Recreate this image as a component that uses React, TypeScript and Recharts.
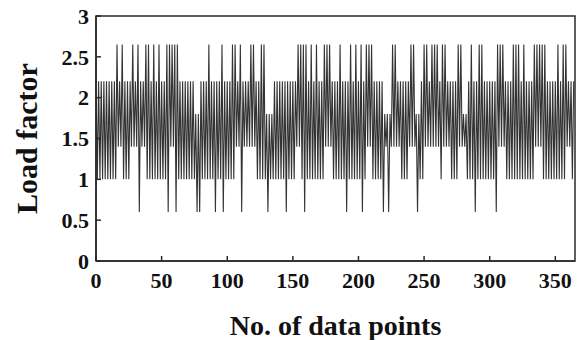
import { LineChart, Line, XAxis, YAxis, ReferenceArea } from "recharts";

// load factor per data point (365 points)
const loadFactor: number[] = [
  2.2, 1.0, 2.2, 1.0, 2.2, 1.0, 2.2, 1.0, 2.2, 1.0,
  2.2, 1.0, 2.2, 1.0, 2.2, 1.0, 2.65, 1.4, 2.2, 1.4,
  2.65, 1.0, 2.2, 1.0, 2.2, 1.0, 2.2, 1.4, 2.65, 1.4,
  2.2, 1.4, 2.65, 0.6, 2.2, 1.4, 2.2, 1.4, 2.65, 1.0,
  2.65, 1.0, 2.2, 1.0, 2.65, 1.0, 2.2, 1.0, 2.65, 1.0,
  2.2, 1.0, 2.2, 1.0, 2.65, 0.6, 2.65, 1.4, 2.65, 1.4,
  2.65, 0.6, 2.65, 1.0, 2.2, 1.0, 2.2, 1.0, 2.2, 1.0,
  2.2, 1.0, 2.2, 1.0, 2.2, 1.0, 1.8, 0.6, 1.8, 0.6,
  2.2, 1.0, 2.2, 1.0, 2.2, 1.0, 2.65, 1.0, 2.2, 1.0,
  2.2, 0.6, 2.2, 1.0, 2.2, 1.0, 2.65, 0.6, 2.2, 1.0,
  2.2, 1.0, 2.2, 1.0, 2.65, 1.0, 2.65, 1.4, 2.2, 1.4,
  2.65, 0.6, 2.2, 1.4, 2.2, 1.4, 2.2, 1.4, 2.65, 1.4,
  2.65, 1.4, 2.2, 1.0, 2.2, 1.0, 2.65, 1.0, 2.65, 1.0,
  1.8, 0.6, 1.8, 1.0, 1.8, 1.0, 2.2, 1.0, 2.2, 1.0,
  2.2, 1.0, 2.2, 1.0, 2.2, 0.6, 2.2, 1.0, 2.2, 1.0,
  2.2, 1.0, 2.2, 1.4, 2.65, 1.4, 2.65, 1.0, 2.65, 0.6,
  2.65, 1.0, 2.2, 1.0, 2.65, 1.0, 2.2, 1.0, 2.65, 1.0,
  2.2, 1.0, 2.2, 1.0, 2.65, 1.4, 2.65, 1.4, 2.65, 1.4,
  2.2, 1.0, 2.2, 1.0, 2.2, 1.0, 2.65, 1.0, 2.2, 1.0,
  2.2, 0.6, 2.2, 1.0, 2.65, 1.0, 2.2, 1.0, 2.65, 1.0,
  2.2, 1.0, 2.65, 0.6, 2.2, 1.0, 2.65, 1.4, 2.65, 1.4,
  2.65, 1.0, 2.2, 1.0, 2.2, 1.0, 2.2, 1.0, 2.2, 0.6,
  1.8, 1.4, 1.8, 0.6, 1.8, 1.4, 2.65, 1.4, 2.65, 1.4,
  2.2, 1.4, 2.2, 1.0, 2.2, 1.0, 2.2, 1.0, 2.2, 1.4,
  2.65, 1.4, 2.65, 1.4, 1.8, 0.6, 1.8, 1.0, 2.2, 1.0,
  2.65, 1.4, 2.65, 1.4, 2.2, 1.4, 2.65, 1.4, 2.65, 1.4,
  2.65, 1.4, 2.2, 1.0, 2.65, 1.4, 2.65, 1.4, 2.2, 1.4,
  2.2, 1.0, 2.2, 1.0, 2.2, 1.0, 2.65, 1.4, 2.65, 1.4,
  1.8, 1.4, 1.8, 1.0, 2.2, 1.0, 2.65, 1.0, 2.2, 0.6,
  2.2, 1.0, 2.65, 1.0, 2.65, 1.0, 2.2, 1.0, 2.2, 1.0,
  2.2, 1.0, 2.2, 1.0, 2.2, 0.6, 2.65, 1.4, 2.65, 1.4,
  2.65, 1.4, 2.2, 1.0, 2.2, 1.0, 2.2, 1.0, 2.65, 1.0,
  2.65, 1.0, 2.65, 1.0, 2.2, 1.0, 2.65, 1.0, 2.2, 1.0,
  2.2, 1.0, 2.2, 1.0, 2.65, 1.4, 2.65, 1.4, 2.65, 1.4,
  2.65, 1.0, 2.65, 1.0, 2.2, 1.0, 2.2, 1.0, 2.2, 1.0,
  2.2, 1.0, 2.65, 1.0, 2.2, 1.0, 2.65, 1.0, 2.65, 1.4,
  2.2, 1.4, 2.2, 1.0, 2.2,
];

const xTicks = [0, 50, 100, 150, 200, 250, 300, 350];
const yTicks = [0, 0.5, 1, 1.5, 2, 2.5, 3];

const data = loadFactor.map((v, i) => ({ n: i, load: v }));

const ink = "#2a2a2a";
const serif = "Liberation Serif";
const tickFont = { fontSize: 22, fontFamily: serif, fontWeight: "bold", fill: "#111" };
const titleFont = { fontFamily: serif, fontWeight: "bold", fill: "#111" };

export default function App() {
  return (
    <div style={{ position: "absolute", left: 0, top: 0, background: "#fff" }}>
      <LineChart
        width={578}
        height={340}
        data={data}
        margin={{ top: 16, right: 3, bottom: 0, left: 0 }}
      >
        <XAxis
          dataKey="n"
          type="number"
          domain={[0, 365]}
          ticks={xTicks}
          height={79}
          tick={tickFont}
          tickSize={-5}
          tickMargin={16}
          stroke={ink}
          strokeWidth={1.5}
          label={{
            value: "No. of data points",
            position: "insideBottom",
            offset: 5,
            style: { ...titleFont, fontSize: 28 },
          }}
        />
        <YAxis
          type="number"
          domain={[0, 3]}
          ticks={yTicks}
          width={96}
          tick={tickFont}
          tickSize={-5}
          tickMargin={12}
          stroke={ink}
          strokeWidth={1.5}
          label={{
            value: "Load factor",
            angle: -90,
            position: "insideLeft",
            offset: 26,
            style: { ...titleFont, fontSize: 30, textAnchor: "middle" },
          }}
        />
        {/* frame around the plot */}
        <ReferenceArea
          x1={0}
          x2={365}
          y1={0}
          y2={3}
          fill="none"
          stroke={ink}
          strokeWidth={1.5}
          ifOverflow="extendDomain"
        />
        <Line
          type="linear"
          dataKey="load"
          stroke="#333"
          strokeWidth={1.1}
          dot={false}
          isAnimationActive={false}
        />
      </LineChart>
    </div>
  );
}
